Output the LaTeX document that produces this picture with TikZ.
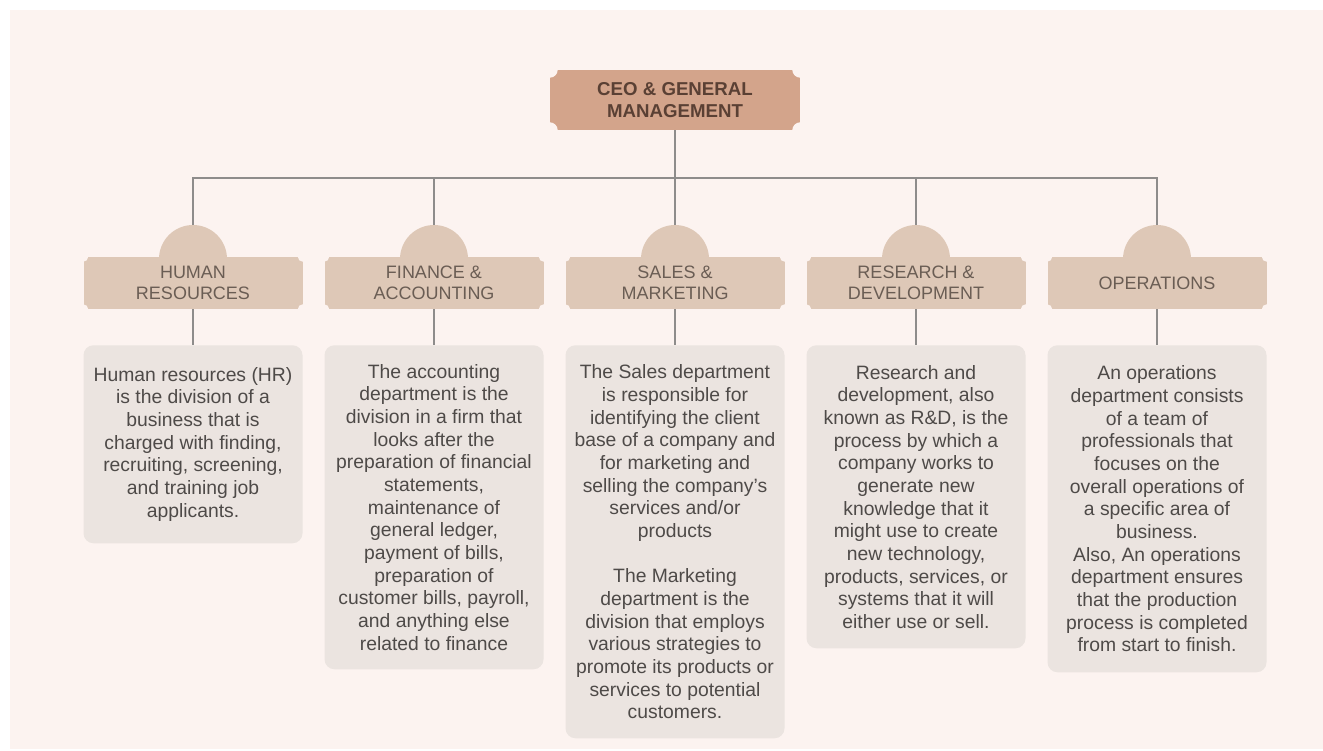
\documentclass[tikz,border=0pt]{standalone}
\usepackage{fontspec}
\setmainfont{Liberation Sans}
\definecolor{paper}{HTML}{FCF3F0}
\definecolor{ceofill}{HTML}{D3A48B}
\definecolor{ceotext}{HTML}{5A4034}
\definecolor{deptfill}{HTML}{DEC8B7}
\definecolor{depttext}{HTML}{6A5D54}
\definecolor{notefill}{HTML}{EBE4E0}
\definecolor{notetext}{HTML}{4E4A48}
\definecolor{wirecol}{HTML}{8E8C8B}
% cut the four corners of a label box
\newcommand{\notchbox}[2]{%
  \foreach \c in {north west,north east,south west,south east}
    \fill[paper] (#1.\c) circle[radius=#2];}
\begin{document}
\begin{tikzpicture}[x=0.75pt,y=-0.75pt,
  ceobox/.style={fill=ceofill, text=ceotext, align=center, inner sep=0pt,
    font=\fontsize{14}{16.5}\selectfont\bfseries, minimum width=187.5pt, minimum height=45pt},
  dept/.style={fill=deptfill, text=depttext, align=center, inner sep=0pt,
    font=\fontsize{13.5}{15.5}\selectfont, minimum width=164.25pt, minimum height=39pt},
  deptdome/.style={circle, fill=deptfill, minimum size=51pt, inner sep=0pt},
  deptnote/.style={fill=notefill, text=notetext, align=center, inner sep=0pt, anchor=north,
    rounded corners=7.5pt, font=\fontsize{14.5}{17}\selectfont, minimum width=164.25pt},
  wire/.style={draw=wirecol, line width=0.9pt}]
  \fill[white] (0,0) rectangle (1323,750);
  \fill[paper] (10,10) rectangle (1323,749);

  \node[ceobox] (ceo) at (675,100) {CEO \& GENERAL\\MANAGEMENT};
  \notchbox{ceo}{8}

  % department heads
  \node[deptdome] (domehr) at (193,259) {};
  \node[deptdome] (domefin) at (434,259) {};
  \node[deptdome] (domesal) at (675,259) {};
  \node[deptdome] (domernd) at (916,259) {};
  \node[deptdome] (domeops) at (1157,259) {};
  \node[dept] (hr) at (193,283) {HUMAN\\RESOURCES};
  \node[dept] (fin) at (434,283) {FINANCE \&\\ACCOUNTING};
  \node[dept] (sal) at (675,283) {SALES \&\\MARKETING};
  \node[dept] (rnd) at (916,283) {RESEARCH \&\\DEVELOPMENT};
  \node[dept] (ops) at (1157,283) {OPERATIONS};
  \foreach \d in {hr,fin,sal,rnd,ops} {\notchbox{\d}{5}}

  % descriptions
  \node[deptnote, minimum height=148.5pt] (notehr) at (193,345)
    {Human resources (HR)\\is the division of a\\business that is\\charged with finding,\\recruiting, screening,\\and training job\\applicants.};
  \node[deptnote, minimum height=243pt] (notefin) at (434,345)
    {The accounting\\department is the\\division in a firm that\\looks after the\\preparation of financial\\statements,\\maintenance of\\general ledger,\\payment of bills,\\preparation of\\customer bills, payroll,\\and anything else\\related to finance};
  \node[deptnote, minimum height=294.75pt] (notesal) at (675,345)
    {The Sales department\\is responsible for\\identifying the client\\base of a company and\\for marketing and\\selling the company's\\services and/or\\products\\[17pt]The Marketing\\department is the\\division that employs\\various strategies to\\promote its products or\\services to potential\\customers.};
  \node[deptnote, minimum height=227.25pt] (noternd) at (916,345)
    {Research and\\development, also\\known as R\&D, is the\\process by which a\\company works to\\generate new\\knowledge that it\\might use to create\\new technology,\\products, services, or\\systems that it will\\either use or sell.};
  \node[deptnote, minimum height=245.25pt] (noteops) at (1157,345)
    {An operations\\department consists\\of a team of\\professionals that\\focuses on the\\overall operations of\\a specific area of\\business.\\Also, An operations\\department ensures\\that the production\\process is completed\\from start to finish.};

  % connectors
  \coordinate (bar) at (675,178);
  \draw[wire] (ceo) -- (bar);
  \foreach \d in {hr,fin,sal,rnd,ops} {
    \draw[wire] (dome\d) |- (bar);
    \draw[wire] (\d) -- (note\d);
  }
\end{tikzpicture}
\end{document}
